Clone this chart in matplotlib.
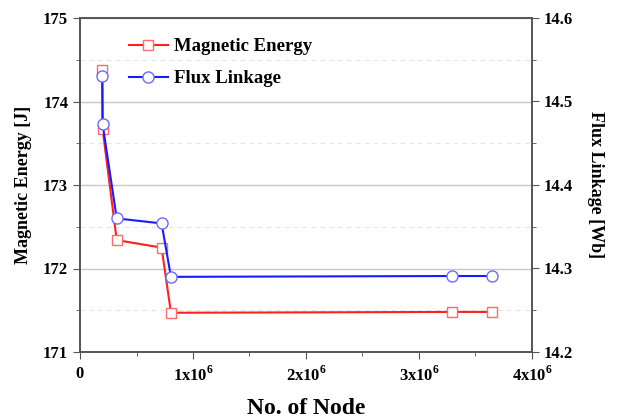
import matplotlib
matplotlib.use("Agg")
import matplotlib.pyplot as plt
from matplotlib.ticker import MultipleLocator, FuncFormatter

plt.rcParams['font.family'] = ['Liberation Serif', 'DejaVu Serif']
plt.rcParams['font.weight'] = 'bold'
plt.rcParams['mathtext.fontset'] = 'custom'
plt.rcParams['mathtext.rm'] = 'Liberation Serif:bold'
plt.rcParams['mathtext.bf'] = 'Liberation Serif:bold'

nodes = [0.197e6, 0.200e6, 0.325e6, 0.722e6, 0.805e6, 3.29e6, 3.65e6]
energy = [174.38, 173.67, 172.34, 172.25, 171.47, 171.48, 171.48]
flux = [14.531, 14.473, 14.360, 14.354, 14.290, 14.291, 14.291]

fig = plt.figure(figsize=(6.22, 4.20), dpi=100)
ax = fig.add_axes([80/622, 1-352/420, 452/622, 334/420])
ax2 = ax.twinx()

ax.set_xlim(0, 4e6)
ax.set_ylim(171, 175)
ax2.set_ylim(14.2, 14.6)

ax.yaxis.set_major_locator(MultipleLocator(1))
ax.yaxis.set_minor_locator(MultipleLocator(0.5))
ax2.yaxis.set_major_locator(MultipleLocator(0.1))
ax2.yaxis.set_minor_locator(MultipleLocator(0.05))
ax.xaxis.set_major_locator(MultipleLocator(1e6))
ax.xaxis.set_minor_locator(MultipleLocator(0.5e6))

def xfmt(v, pos):
    if v == 0:
        return '0'
    return r'%dx10$^{6}$' % round(v / 1e6)
ax.xaxis.set_major_formatter(FuncFormatter(xfmt))
ax.yaxis.set_major_formatter(FuncFormatter(lambda v, p: '%d' % round(v)))
ax2.yaxis.set_major_formatter(FuncFormatter(lambda v, p: '%.1f' % v))

ax.grid(True, which='major', axis='y', color='#c8c8c8', lw=1.0, ls='-')
ax.grid(True, which='minor', axis='y', color='#e4e4e4', lw=0.8, ls=(0, (4, 4)))
ax.set_axisbelow(True)

l1, = ax.plot(nodes, energy, color='#ff2020', lw=1.5, marker='s', ms=7,
              mfc='white', mec='#ff6a6a', mew=1.0, label='Magnetic Energy')
l2, = ax2.plot(nodes, flux, color='#1a1aff', lw=1.5, marker='o', ms=8,
               mfc='white', mec='#6a6aff', mew=1.0, label='Flux Linkage')

for a in (ax, ax2):
    for s in a.spines.values():
        s.set_color('#555555')
        s.set_linewidth(1.2)
    a.tick_params(which='both', direction='out', color='#555555', labelsize=12)
    a.tick_params(which='major', length=5)
    a.tick_params(which='minor', length=3)
ax.tick_params(axis='x', pad=5)

for lab in ax.get_xticklabels() + ax.get_yticklabels() + ax2.get_yticklabels():
    lab.set_fontweight('bold')

ax.set_xlabel('No. of Node', fontsize=17, fontweight='bold', labelpad=9)
ax.set_ylabel('Magnetic Energy [J]', fontsize=13, fontweight='bold', labelpad=8)
ax2.set_ylabel('Flux Linkage [Wb]', fontsize=13, fontweight='bold', rotation=270, labelpad=22)

leg = ax.legend(handles=[l1, l2], loc='upper left', bbox_to_anchor=(0.07, 0.99),
                frameon=False, handlelength=2.1, handletextpad=0.35, labelspacing=0.8,
                prop={'weight': 'bold', 'size': 13.5})

fig.savefig('out.png', dpi=100)
